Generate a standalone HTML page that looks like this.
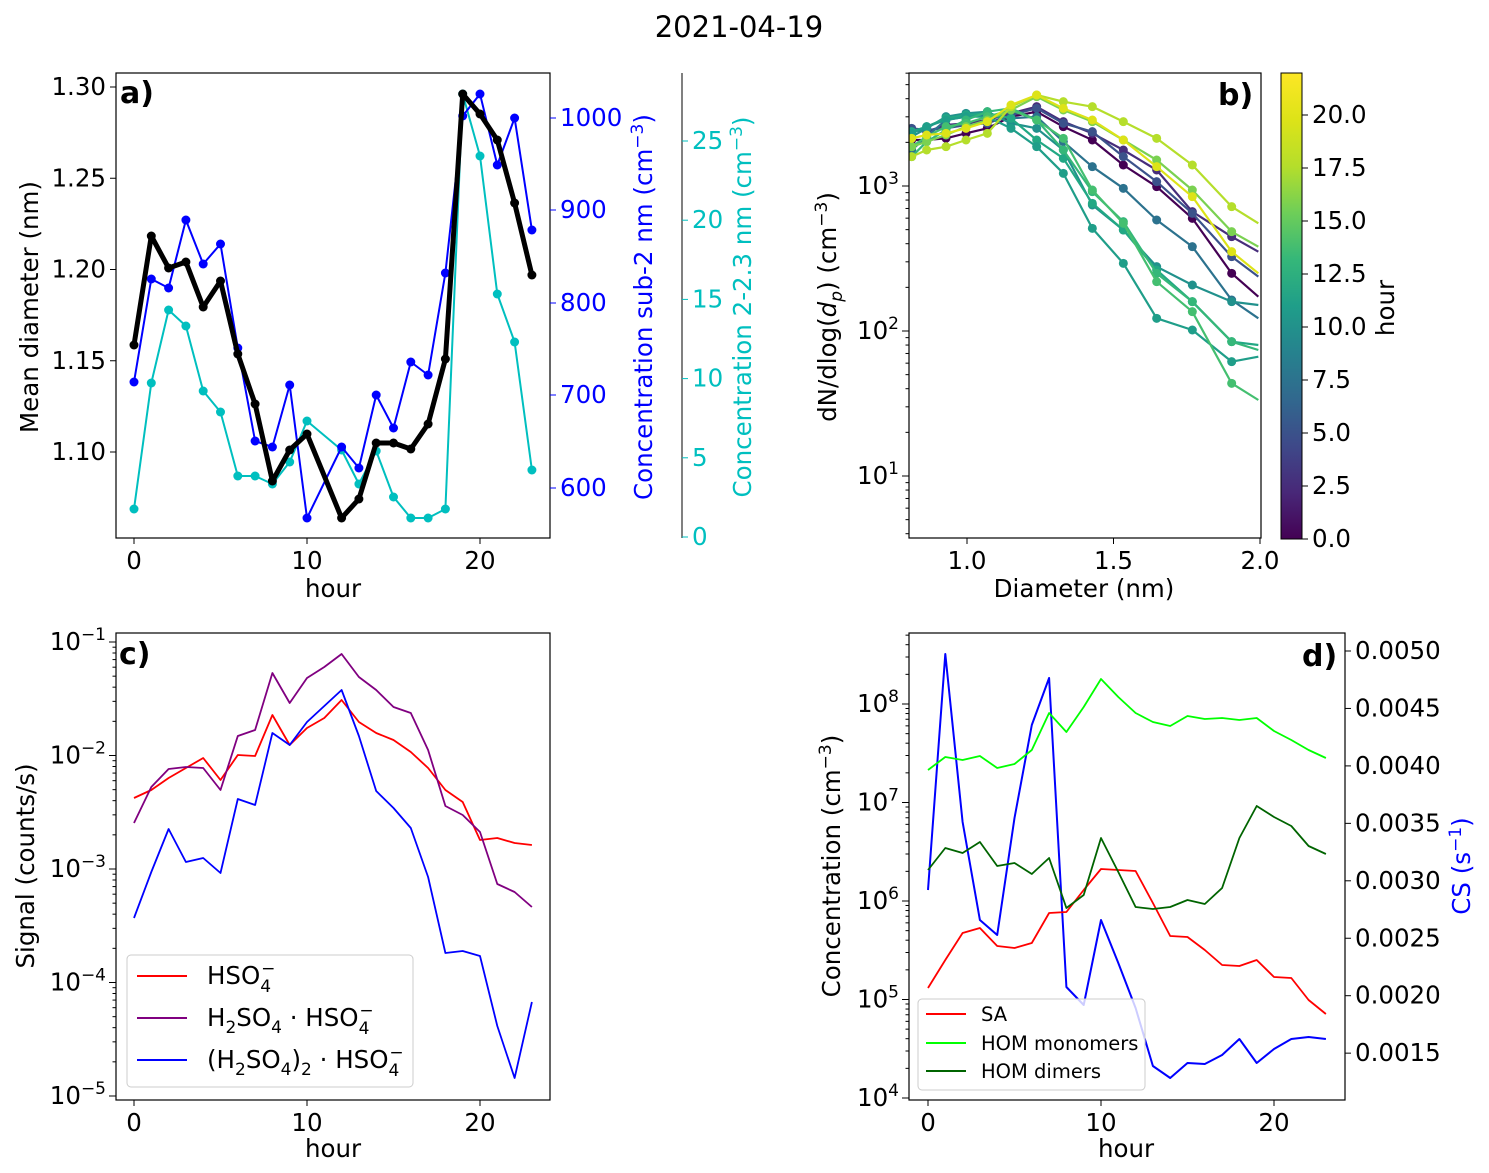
<!DOCTYPE html>
<html><head><meta charset="utf-8"><style>
html,body{margin:0;padding:0;background:#fff}
svg{display:block;font-family:"DejaVu Sans","Liberation Sans",sans-serif}
</style></head><body>
<svg id="s" width="1489" height="1173" viewBox="0 0 1489 1173" xmlns="http://www.w3.org/2000/svg">
<defs>
<linearGradient id="vir" x1="0" y1="1" x2="0" y2="0">
<stop offset="0" stop-color="#440154"/><stop offset="0.1" stop-color="#482878"/><stop offset="0.2" stop-color="#3e4989"/><stop offset="0.3" stop-color="#31688e"/><stop offset="0.4" stop-color="#26828e"/><stop offset="0.5" stop-color="#1f9e89"/><stop offset="0.6" stop-color="#35b779"/><stop offset="0.7" stop-color="#6ece58"/><stop offset="0.8" stop-color="#b5de2b"/><stop offset="0.9" stop-color="#dde318"/><stop offset="1" stop-color="#fde725"/>
</linearGradient>
<clipPath id="cb"><rect x="909" y="73" width="352" height="465"/></clipPath>
</defs>
<text x="739" y="37" font-size="29" text-anchor="middle">2021-04-19</text>
</svg>
<script>
const S=document.getElementById('s');const NS='http://www.w3.org/2000/svg';
const SF=17;
function el(t,a,txt,p){const e=document.createElementNS(NS,t);for(const k in a)e.setAttribute(k,a[k]);if(txt!=null)e.innerHTML=txt;(p||S).appendChild(e);return e;}
function txt(x,y,s,o){o=o||{};return el('text',Object.assign({x:x,y:y,'font-size':o.fs||24.5,'text-anchor':o.a||'middle',fill:o.c||'#000'},o.at||{}),s);}
function line(pts,c,w,p){return el('polyline',{points:pts.map(q=>q.join(',')).join(' '),fill:'none',stroke:c,'stroke-width':w,'stroke-linejoin':'round'},null,p);}
function dots(pts,c,r,p){pts.forEach(q=>el('circle',{cx:q[0],cy:q[1],r:r,fill:c},null,p));}
function box(x,y,w,h){el('rect',{x:x,y:y,width:w,height:h,fill:'none',stroke:'#000','stroke-width':1.2});}
function xt(x,y,lab){el('line',{x1:x,y1:y,x2:x,y2:y+6,stroke:'#000'});if(lab!=null)txt(x,y+31,lab);}
function ytl(x,y,lab,len){el('line',{x1:x,y1:y,x2:x-(len||6),y2:y,stroke:'#000'});if(lab!=null)txt(x-10,y+8,lab,{a:'end'});}
function ytr(x,y,lab,c,len){el('line',{x1:x,y1:y,x2:x+(len||6),y2:y,stroke:c||'#000'});if(lab!=null)txt(x+10,y+8,lab,{a:'start',c:c||'#000'});}
const XA=h=>134+17.3*h, XD=h=>928+17.3*h;
// ===== Panel a
const hrsA=[0,1,2,3,4,5,6,7,8,9,10,12,13,14,15,16,17,18,19,20,21,22,23];
const blk=[345,236,268,262,307,281,354,404,481,450,434,518,499,443,443,449,424,359,94,114,140,203,275];
const blu=[382,279,288,220,264,244,348,441,447,385,518,447,468,395,428,362,375,273,116,94,165,118,230];
const cya=[509,383,310,326,391,412,476,476,484,462,421,450,484,451,497,518,518,509,94,156,294,342,470];
let P=a=>hrsA.map((h,i)=>[XA(h),a[i]]);
line(P(cya),'#00bfbf',2);dots(P(cya),'#00bfbf',4.5);
line(P(blu),'#0000ff',2);dots(P(blu),'#0000ff',4.5);
line(P(blk),'#000',5);dots(P(blk),'#000',4.5);
box(116,73,434,465);
[0,10,20].forEach(h=>xt(XA(h),538,h));txt(333,597,'hour');
[[1.30,'1.30'],[1.25,'1.25'],[1.20,'1.20'],[1.15,'1.15'],[1.10,'1.10']].forEach(v=>ytl(116,87+(1.30-v[0])*1825,v[1]));
txt(38,307,'Mean diameter (nm)',{at:{transform:'rotate(-90 38 307)'}});
[[1000,118],[900,210],[800,303],[700,395],[600,488]].forEach(v=>ytr(550,v[1],v[0],'#0000ff'));
txt(652,307,'Concentration sub-2 nm (cm<tspan dy="-9" font-size="'+SF+'">−3</tspan><tspan dy="9">)</tspan>',{c:'#0000ff',at:{transform:'rotate(-90 652 307)'}});
el('line',{x1:682,y1:73,x2:682,y2:538,stroke:'#000'});
[0,5,10,15,20,25].forEach(v=>ytr(682,537-v*15.84,v,'#00bfbf'));
txt(751,307,'Concentration 2-2.3 nm (cm<tspan dy="-9" font-size="'+SF+'">−3</tspan><tspan dy="9">)</tspan>',{c:'#00bfbf',at:{transform:'rotate(-90 751 307)'}});
txt(120,103,'a)',{a:'start',fs:30,at:{'font-weight':'bold'}});
// ===== Panel b
const bx=[20,65,123,183,247,318,395,475,562,655,755,862,980,1060].map(z=>905+z/3);
const BL=[
['#440154',[210,210,205,190,175,140,125,170,210,285,350,445,610,680]],
['#472d7b',[180,185,165,160,150,130,110,155,190,240,300,425,500,545]],
['#3b528b',[175,180,175,165,160,135,115,160,185,260,335,430,560,620]],
['#2c728e',[240,200,150,140,135,145,140,215,290,355,450,530,690,745]],
['#21918c',[200,175,140,130,125,160,175,240,405,480,590,645,695,705]],
['#22a884',[185,170,145,135,130,145,210,265,400,480,600,695,815,825]],
['#1f9e89',[190,170,150,140,140,175,230,310,475,580,745,780,875,860]],
['#35b779',[260,215,180,150,125,115,150,240,365,455,610,695,815,840]],
['#44bf70',[230,200,170,160,140,120,150,205,360,460,635,725,940,990]],
['#7ad151',[230,215,195,170,150,120,80,120,155,210,270,360,485,530]],
['#b5de2b',[260,240,230,210,190,110,75,95,110,155,205,285,410,460]],
['#dde318',[205,195,190,175,155,105,75,115,150,210,290,380,545,610]]];
const gb=el('g',{'clip-path':'url(#cb)'});
BL.forEach(l=>{const pts=bx.map((x,i)=>[x,70+l[1][i]/3]);line(pts,l[0],2.2,gb);dots(pts.slice(0,13),l[0],4.5,gb);});
box(909,73,352,465);
[[1.0,'1.0'],[1.5,'1.5'],[2.0,'2.0']].forEach(v=>xt(967+(v[0]-1)*293,538,v[1]));
txt(1084,597,'Diameter (nm)');
const dec=d=>186+(3-d)*145;
[3,2,1].forEach(d=>ytl(909,dec(d),'10<tspan dy="-10" font-size="'+SF+'">'+d+'</tspan>',7));
for(let d=0;d<4;d++)for(let m=2;m<10;m++){const y=dec(d)-Math.log10(m)*145;if(y>73&&y<538)ytl(909,y,null,3.5);}
txt(836,307,'dN/dlog(<tspan font-style="italic">d</tspan><tspan dy="6" font-size="'+SF+'" font-style="italic">p</tspan><tspan dy="-6">) (cm</tspan><tspan dy="-9" font-size="'+SF+'">−3</tspan><tspan dy="9">)</tspan>',{at:{transform:'rotate(-90 836 307)'}});
txt(1218,105,'b)',{a:'start',fs:30,at:{'font-weight':'bold'}});
el('rect',{x:1281,y:73,width:21,height:466,fill:'url(#vir)',stroke:'#000','stroke-width':1});
[[0,'0.0'],[2.5,'2.5'],[5,'5.0'],[7.5,'7.5'],[10,'10.0'],[12.5,'12.5'],[15,'15.0'],[17.5,'17.5'],[20,'20.0']].forEach(v=>ytr(1302,539-v[0]*21.2,v[1]));
txt(1394,308,'hour',{at:{transform:'rotate(-90 1394 308)'}});
// ===== Panel c
const H=[...Array(24).keys()];
const cr=[798,790,778,768,758,780,755,756,715,745,728,718,700,722,733,740,752,768,790,802,840,838,843,845];
const cp=[823,787,769,767,768,790,736,730,673,703,678,667,654,677,690,707,713,750,806,815,832,884,892,907];
const cbl=[918,872,829,862,858,873,799,805,733,745,722,706,690,736,791,808,828,877,953,951,956,1026,1078,1002];
line(H.map(h=>[XA(h),cr[h]]),'#ff0000',1.8);line(H.map(h=>[XA(h),cp[h]]),'#800080',1.8);line(H.map(h=>[XA(h),cbl[h]]),'#0000ff',1.8);
box(116,633,434,467);
[0,10,20].forEach(h=>xt(XA(h),1100,h));txt(333,1157,'hour');
[-1,-2,-3,-4,-5].forEach(d=>{ytl(116,642+(-1-d)*113.5,'10<tspan dy="-10" font-size="'+SF+'">−'+(-d)+'</tspan>',7);});
for(let d=-5;d<-1;d++)for(let m=2;m<10;m++){ytl(116,642+(-1-d)*113.5-Math.log10(m)*113.5,null,3.5);}
txt(34,866,'Signal (counts/s)',{at:{transform:'rotate(-90 34 866)'}});
txt(119,664,'c)',{a:'start',fs:30,at:{'font-weight':'bold'}});
el('rect',{x:127,y:955,width:286,height:132,rx:4,fill:'#fff','fill-opacity':0.8,stroke:'#ccc'});
const f='font-size="'+SF+'"';
const hso='HSO<tspan dy="8" '+f+'>4</tspan><tspan dy="-18" dx="-10" '+f+'>−</tspan>';
[['#ff0000',976,hso],
 ['#800080',1018,'H<tspan dy="7" '+f+'>2</tspan><tspan dy="-7">SO</tspan><tspan dy="7" '+f+'>4</tspan><tspan dy="-7"> · '+'HSO</tspan><tspan dy="8" '+f+'>4</tspan><tspan dy="-18" dx="-10" '+f+'>−</tspan>'],
 ['#0000ff',1060,'(H<tspan dy="7" '+f+'>2</tspan><tspan dy="-7">SO</tspan><tspan dy="7" '+f+'>4</tspan><tspan dy="-7">)</tspan><tspan dy="7" '+f+'>2</tspan><tspan dy="-7"> · HSO</tspan><tspan dy="8" '+f+'>4</tspan><tspan dy="-18" dx="-10" '+f+'>−</tspan>']].forEach(l=>{
 el('line',{x1:137,y1:l[1],x2:187,y2:l[1],stroke:l[0],'stroke-width':2});txt(207,l[1]+8,l[2],{a:'start'});});
// ===== Panel d
const sa=[988,960,933,928,946,948,943,913,912,890,869,870,871,903,936,937,950,965,966,960,977,978,1000,1014];
const hm=[770,757,760,756,768,764,750,713,732,707,679,697,713,722,726,716,719,718,720,718,731,740,750,758];
const hd=[870,848,853,842,866,863,874,858,908,895,838,872,907,909,907,900,904,888,838,806,817,826,846,854];
const cs=[890,654,822,920,935,818,725,678,987,1005,920,963,1008,1066,1078,1063,1064,1055,1039,1063,1049,1039,1037,1039];
line(H.map(h=>[XD(h),cs[h]]),'#0000ff',2);
line(H.map(h=>[XD(h),sa[h]]),'#ff0000',1.8);line(H.map(h=>[XD(h),hm[h]]),'#00ff00',1.8);line(H.map(h=>[XD(h),hd[h]]),'#006400',1.8);
box(909,633,436,467);
[0,10,20].forEach(h=>xt(XD(h),1100,h));txt(1126,1157,'hour');
const dd=d=>704+(8-d)*98.5;
[8,7,6,5,4].forEach(d=>ytl(909,dd(d),'10<tspan dy="-10" font-size="'+SF+'">'+d+'</tspan>',7));
for(let d=4;d<9;d++)for(let m=2;m<10;m++){const y=dd(d)-Math.log10(m)*98.5;if(y>633)ytl(909,y,null,3.5);}
txt(840,866,'Concentration (cm<tspan dy="-9" font-size="'+SF+'">−3</tspan><tspan dy="9">)</tspan>',{at:{transform:'rotate(-90 840 866)'}});
['0.0050','0.0045','0.0040','0.0035','0.0030','0.0025','0.0020','0.0015'].forEach((v,i)=>ytr(1345,651+i*57.45,v));
txt(1470,866,'CS (s<tspan dy="-9" font-size="'+SF+'">−1</tspan><tspan dy="9">)</tspan>',{c:'#0000ff',at:{transform:'rotate(-90 1470 866)'}});
txt(1302,666,'d)',{a:'start',fs:30,at:{'font-weight':'bold'}});
el('rect',{x:918,y:999,width:227,height:91,rx:4,fill:'#fff','fill-opacity':0.8,stroke:'#ccc'});
[['#ff0000',1014,'SA'],['#00ff00',1043,'HOM monomers'],['#006400',1071,'HOM dimers']].forEach(l=>{
 el('line',{x1:926,y1:l[1],x2:966,y2:l[1],stroke:l[0],'stroke-width':2});txt(981,l[1]+7,l[2],{a:'start',fs:19.5});});
</script>
</body></html>
